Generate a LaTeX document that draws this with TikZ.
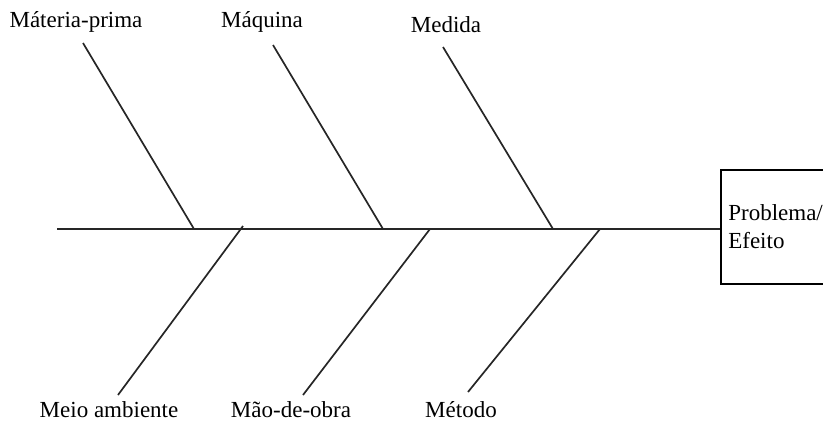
\documentclass[tikz,border=0pt]{standalone}
\usepackage{fontspec}
\setmainfont{Liberation Serif}

\begin{document}
\begin{tikzpicture}[
  x=1pt, y=-1pt,
  every node/.style={font=\fontsize{23}{28}\selectfont},
  label/.style={inner sep=0pt},
  box/.style={draw=black, line width=1.6pt, align=left, anchor=north west,
              minimum width=130pt, minimum height=114pt, inner sep=6pt, text width=115pt},
  bone/.style={line width=1.7pt, black!85},
]

\useasboundingbox (0,0) rectangle (823,423);

% effect box
\node[box] (efeito) at (720,169) {Problema/\\Efeito};

% spine
\coordinate (cauda) at (57,229);
\draw[bone] (cauda) -- (efeito.west |- cauda);

% causes above
\node[label] (mat) at (76,22) {Máteria-prima};
\node[label] (maq) at (262,22) {Máquina};
\node[label] (med) at (446,25) {Medida};

\coordinate (matT) at (83,43);  \coordinate (matS) at (194,229);
\coordinate (maqT) at (273,45); \coordinate (maqS) at (383,229);
\coordinate (medT) at (443,47); \coordinate (medS) at (553,229);

\draw[bone] (matT) -- (matS);
\draw[bone] (maqT) -- (maqS);
\draw[bone] (medT) -- (medS);

% causes below
\node[label] (amb) at (109,410) {Meio ambiente};
\node[label] (obra) at (291,410) {Mão-de-obra};
\node[label] (met) at (461,410) {Método};

\coordinate (ambS) at (243,226); \coordinate (ambB) at (118,395);
\coordinate (obraS) at (430,229); \coordinate (obraB) at (303,395);
\coordinate (metS) at (600,229); \coordinate (metB) at (468,392);

\draw[bone] (ambS) -- (ambB);
\draw[bone] (obraS) -- (obraB);
\draw[bone] (metS) -- (metB);

\end{tikzpicture}
\end{document}
